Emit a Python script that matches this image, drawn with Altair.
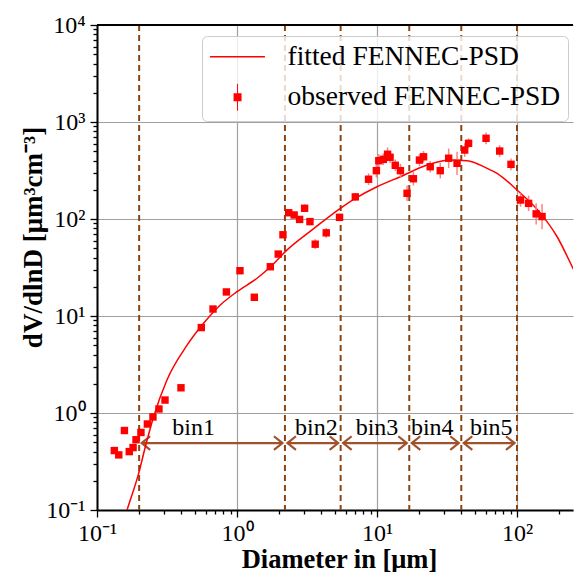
import altair as alt
import pandas as pd

# ---------------- data ----------------
obs_d = [0.133, 0.143, 0.157, 0.170, 0.181, 0.190, 0.206, 0.229, 0.251, 0.277,
         0.306, 0.398, 0.556, 0.674, 0.84, 1.05, 1.33, 1.73, 1.97, 2.13,
         2.34, 2.56, 2.80, 3.04, 3.32, 3.62, 4.34, 5.4, 7.0, 8.7,
         9.9, 10.3, 11.1, 11.9, 12.4, 13.5, 14.7, 16.4, 18.2, 20.1,
         21.5, 24.0, 28.3, 32.5, 37.3, 42.3, 45.1, 60.1, 75.2, 90.6,
         106, 121, 137, 151]
obs_v = [0.41, 0.37, 0.66, 0.40, 0.44, 0.53, 0.63, 0.77, 0.91, 1.1,
         1.36, 1.82, 7.6, 11.8, 17.7, 29.3, 15.6, 32.2, 43.5, 68.8,
         116, 110, 99, 129, 94, 55, 72, 104, 169, 257,
         315, 399, 412, 465, 433, 358, 315, 184, 260, 405,
         438, 346, 315, 423, 375, 514, 603, 679, 502, 366,
         157, 145, 113, 106]
# half length of the error bars, in decades
obs_err = [0.02, 0.02, 0.02, 0.02, 0.02, 0.02, 0.02, 0.02, 0.02, 0.02,
           0.02, 0.02, 0.02, 0.02, 0.02, 0.02, 0.02, 0.02, 0.02, 0.02,
           0.03, 0.03, 0.03, 0.04, 0.035, 0.05, 0.05, 0.04, 0.04, 0.06,
           0.07, 0.07, 0.06, 0.07, 0.06, 0.06, 0.07, 0.08, 0.07, 0.06,
           0.06, 0.06, 0.08, 0.10, 0.12, 0.07, 0.05, 0.06, 0.06, 0.06,
           0.07, 0.08, 0.11, 0.13]

fit_d = [0.155, 0.164, 0.197, 0.225, 0.254, 0.316, 0.44, 0.577, 0.76, 1.0,
         1.39, 1.73, 2.28, 3.51, 5.47, 7.0, 10.0, 14.7, 22.8, 33.4,
         44.0, 61.1, 72.0, 100, 147, 193, 254, 292]
fit_v = [0.077, 0.1, 0.23, 0.49, 0.92, 2.19, 5.0, 8.4, 13, 17.8,
         24.5, 32, 48, 79, 129, 163, 215, 273, 360, 405,
         399, 333, 296, 199, 115, 66, 30, 20]

bin_edges = [0.2, 2.2, 5.5, 17, 40, 100]
bin_names = ["bin1", "bin2", "bin3", "bin4", "bin5"]
bin_label_d = [0.49, 3.69, 10.0, 24.8, 65.5]
arrow_level = 0.49
label_level = 0.59

legend_names = ["fitted FENNEC-PSD", "observed FENNEC-PSD"]

# ---------------- styling ----------------
W, H = 476, 485
XMAX = 0.1 * 10 ** (W / 140)   # 140 px per decade, as in the picture
FONT = "Liberation Serif"
BROWN_DASH = "#8b4513"
BROWN_ARROW = "#a0522d"
GAP = 10 ** (2.5 / 140)  # arrow tip stands 2.5 px off the dashed line

x_ticks = [m * 10.0 ** k for k in range(-1, 3) for m in range(1, 10) if m * 10.0 ** k <= XMAX]
y_ticks = [m * 10.0 ** k for k in range(-1, 4) for m in range(1, 10)] + [10000.0]

LOG = "log(datum.value)/LN10"
MAJ = f"abs({LOG} - round({LOG})) < 0.01"
EXP = f"round({LOG})"
LABEL = (f"{MAJ} ? '10' + ({EXP}==-1 ? '⁻¹' : {EXP}==0 ? '⁰' : {EXP}==1 ? '¹' : "
         f"{EXP}==2 ? '²' : {EXP}==3 ? '³' : '⁴') : ''")

xscale = alt.Scale(type="log", domain=[0.1, XMAX], nice=False)
yscale = alt.Scale(type="log", domain=[0.1, 10000], nice=False)

common_axis = dict(
    grid=True, gridColor="#a0a0a0", gridWidth=1.2,
    gridOpacity={"condition": {"test": MAJ, "value": 1}, "value": 0},
    tickSize={"condition": {"test": MAJ, "value": 7}, "value": 4},
    tickColor="black", tickWidth=1.3,
    domainColor="black", domainWidth=2,
    labelExpr=LABEL, labelFont=FONT, labelFontSize=24, labelColor="black",
    labelFlush=False, labelOverlap=False, labelBound=False,
    titleFont=FONT, titleFontWeight="bold", titleColor="black",
)
xaxis = alt.Axis(values=x_ticks, title="Diameter in [μm]", titleFontSize=26.5,
                 labelPadding=4, titleBaseline="alphabetic", titleY=57,
                 titleX=242, titleAlign="center", **common_axis)
yaxis = alt.Axis(values=y_ticks, title="dV/dlnD [μm³cm⁻³]", titleFontSize=27,
                 labelPadding=5, titleAngle=270, titleBaseline="alphabetic",
                 titleX=-56, titleY=212, titleAlign="center", **common_axis)


def X(field="D"):
    return alt.X(f"{field}:Q", scale=xscale, axis=xaxis)


def Y(field="V"):
    return alt.Y(f"{field}:Q", scale=yscale, axis=yaxis)


obs = pd.DataFrame({"D": obs_d, "V": obs_v, "e": obs_err})
obs["lo"] = obs["V"] / 10 ** obs["e"]
obs["hi"] = obs["V"] * 10 ** obs["e"]
fit = pd.DataFrame({"D": fit_d, "V": fit_v})
edges = pd.DataFrame({"D": bin_edges})
arrows = pd.DataFrame({"D": [e * GAP for e in bin_edges[:-1]],
                       "D2": [e / GAP for e in bin_edges[1:]],
                       "V": [arrow_level] * len(bin_names)})
heads_l = pd.DataFrame({"D": bin_edges[:-1], "V": [arrow_level] * len(bin_names)})
heads_r = pd.DataFrame({"D": bin_edges[1:], "V": [arrow_level] * len(bin_names)})
labels = pd.DataFrame({"D": bin_label_d, "V": [label_level] * len(bin_names), "name": bin_names})

frame_top = alt.Chart(pd.DataFrame({"k": [0]})).mark_rule(color="black", strokeWidth=2).encode(
    x=alt.value(0), x2=alt.value(W), y=alt.value(0))

dashes = alt.Chart(edges).mark_rule(color=BROWN_DASH, strokeWidth=2, strokeDash=[6, 4]).encode(x=X())

arrow_lines = alt.Chart(arrows).mark_rule(color=BROWN_ARROW, strokeWidth=2.2).encode(
    x=X(), x2="D2:Q", y=Y())
head_left = alt.Chart(heads_l).mark_point(
    shape="M1.1,-0.68L0.25,0L1.1,0.68", filled=False, size=400, strokeWidth=2.2,
    color=BROWN_ARROW, opacity=1).encode(x=X(), y=Y())
head_right = alt.Chart(heads_r).mark_point(
    shape="M-1.1,-0.68L-0.25,0L-1.1,0.68", filled=False, size=400, strokeWidth=2.2,
    color=BROWN_ARROW, opacity=1).encode(x=X(), y=Y())
bin_text = alt.Chart(labels).mark_text(
    font=FONT, fontSize=24, baseline="alphabetic", align="center", color="black").encode(
    x=X(), y=Y(), text="name:N")

curve = alt.Chart(fit).mark_line(color="red", strokeWidth=1.5, clip=True, interpolate="monotone").encode(
    x=X(), y=Y())
errbars = alt.Chart(obs).mark_rule(color="#ff8080", strokeWidth=1.5).encode(
    x=X(), y=alt.Y("lo:Q", scale=yscale, axis=yaxis), y2="hi:Q")
points = alt.Chart(obs).mark_point(shape="square", filled=True, size=55, color="red", opacity=1).encode(
    x=X(), y=Y())

# legend symbols drawn as filled shapes: a thin bar for the line, a square with an error bar
LINE_SYM = "M-1.28,-0.075H4.22V0.075H-1.28Z"
OBS_SYM = "M1.08,-0.4H1.88V0.4H1.08Z M1.43,-1.35H1.53V1.35H1.43Z"
legend = alt.Chart(pd.DataFrame({"series": legend_names})).transform_filter("false").mark_point(
    filled=True, size=400, color="red", opacity=1).encode(
    shape=alt.Shape("series:N",
                    scale=alt.Scale(domain=legend_names, range=[LINE_SYM, OBS_SYM]),
                    legend=alt.Legend(orient="none", legendX=105, legendY=11, title=None,
                                      labelFont=FONT, labelFontSize=27.5, labelColor="black",
                                      labelOffset=51, labelLimit=500, symbolSize=400,
                                      padding=7, rowPadding=9.5,
                                      fillColor="rgba(255,255,255,0.8)", strokeColor="#cccccc",
                                      cornerRadius=5, symbolFillColor="red",
                                      symbolOpacity=1)))

chart = alt.layer(
    dashes, arrow_lines, head_left, head_right, bin_text, curve, errbars, points, legend, frame_top
).properties(
    width=W, height=H,
    autosize=alt.AutoSizeParams(type="none"),
    padding={"left": 89, "top": 17, "right": 1, "bottom": 62},
    background="white",
).configure_view(stroke=None)

chart.save("out.html", embed_options={"renderer": "svg", "actions": False})
